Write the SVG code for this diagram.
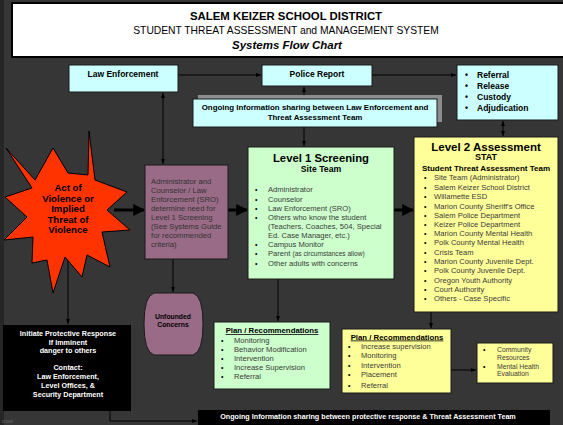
<svg xmlns="http://www.w3.org/2000/svg" width="563" height="425" viewBox="0 0 563 425">
  <defs>
    <style>
      text { font-family: "Liberation Sans", Arial, sans-serif; }
      .box { stroke: #1a1a1a; stroke-width: 1; }
      .cyan { fill: #ccffff; }
      .green { fill: #ccffcc; }
      .yellow { fill: #ffff99; }
      .purple { fill: #996b87; }
      .hd { font-weight: bold; fill: #000; text-anchor: middle; }
      .li { font-size: 7.6px; fill: #3a3a3a; }
      .bul { font-size: 7px; fill: #000; }
      .wt { font-weight: bold; fill: #fff; text-anchor: middle; font-size: 7.2px; }
      .ln { stroke: #000; stroke-width: 1; fill: none; }
      .thick { stroke: #000; stroke-width: 3; fill: none; }
    </style>
    <marker id="ah" viewBox="0 0 10 10" refX="10" refY="5" markerWidth="5" markerHeight="5" orient="auto-start-reverse" markerUnits="userSpaceOnUse">
      <path d="M0,1 L10,5 L0,9 z" fill="#000"/>
    </marker>
    <marker id="ahb" viewBox="0 0 10 10" refX="9" refY="5" markerWidth="4" markerHeight="4" orient="auto">
      <path d="M0,0 L10,5 L0,10 z" fill="#000"/>
    </marker>
  </defs>

  <!-- page background -->
  <rect x="0" y="0" width="563" height="425" fill="#363636"/>
  <rect x="0" y="0" width="4" height="425" fill="#262626"/>

  <!-- heading -->
  <g id="title">
    <rect x="12" y="3" width="553" height="54" fill="#fff" stroke="#000" stroke-width="2"/>
    <text x="286" y="20" class="hd" font-size="11.4">SALEM KEIZER SCHOOL DISTRICT</text>
    <text x="286" y="34" font-size="10.3" text-anchor="middle" fill="#000">STUDENT THREAT ASSESSMENT and MANAGEMENT SYSTEM</text>
    <text x="287" y="49" class="hd" font-size="11.5" font-style="italic">Systems Flow Chart</text>
  </g>

  <!-- connectors -->
  <g id="connectors">
    <line x1="178" y1="75" x2="261" y2="75" class="ln" marker-end="url(#ah)"/>
    <line x1="372" y1="75" x2="456" y2="75" class="ln" marker-end="url(#ah)"/>
    <line x1="163" y1="93" x2="163" y2="164" class="ln" marker-start="url(#ah)" marker-end="url(#ah)"/>
    <line x1="304" y1="99" x2="304" y2="87" class="ln" marker-end="url(#ah)"/>
    <line x1="304" y1="127" x2="304" y2="146" class="ln" marker-end="url(#ah)"/>
    <line x1="503" y1="121" x2="503" y2="136" class="ln" marker-start="url(#ah)" marker-end="url(#ah)"/>
    <line x1="114" y1="210" x2="144" y2="210" class="thick" marker-end="url(#ahb)"/>
    <line x1="228" y1="210" x2="247" y2="210" class="thick" marker-end="url(#ahb)"/>
    <line x1="394" y1="210" x2="413" y2="210" class="thick" marker-end="url(#ahb)"/>
    <line x1="173" y1="259" x2="173" y2="292" class="ln" marker-end="url(#ah)"/>
    <line x1="68" y1="255" x2="68" y2="324" class="ln" marker-end="url(#ah)"/>
    <line x1="278" y1="279" x2="278" y2="321" class="ln" marker-end="url(#ah)"/>
    <line x1="431" y1="312" x2="431" y2="328" class="ln" marker-end="url(#ah)"/>
    <line x1="451" y1="370" x2="476" y2="370" class="ln" marker-end="url(#ah)"/>
    <polyline points="110,411 110,421 197,421" class="ln" marker-end="url(#ah)"/>
  </g>

  <!-- law enforcement -->
  <g id="law-enforcement">
    <rect x="69" y="65" width="109" height="27" class="box cyan"/>
    <text x="123" y="77" class="hd" font-size="8.5">Law Enforcement</text>
  </g>

  <!-- police report -->
  <g id="police-report">
    <rect x="262" y="65" width="110" height="21" class="box cyan"/>
    <text x="317" y="77" class="hd" font-size="8.5">Police Report</text>
  </g>

  <!-- legal outcomes -->
  <g id="outcomes">
    <rect x="457" y="65" width="101" height="55" class="box cyan"/>
    <g font-size="8.5" font-weight="bold" fill="#000">
      <text x="465" y="78">•</text><text x="477" y="78">Referral</text>
      <text x="465" y="89">•</text><text x="477" y="89">Release</text>
      <text x="465" y="100">•</text><text x="477" y="100">Custody</text>
      <text x="465" y="111">•</text><text x="477" y="111">Adjudication</text>
    </g>
  </g>

  <!-- info sharing with law enforcement -->
  <g id="info-sharing-le">
    <rect x="198" y="95" width="244" height="27" fill="#8c8c8c"/>
    <rect x="193" y="99" width="244" height="28" class="box cyan"/>
    <text x="315" y="110" class="hd" font-size="7.9">Ongoing Information sharing between Law Enforcement and</text>
    <text x="315" y="119.5" class="hd" font-size="7.9">Threat Assessment Team</text>
  </g>

  <!-- triggering event -->
  <g id="incident">
    <polygon points="89,131 88,175 68,173 53,148 35,180 6,148 32,188 5,197 27,217 4,240 33,237 32,263 47,260 53,293 65,257 82,277 87,255 110,267 102,232 130,230 107,210 127,192 95,180" fill="#ff3300" stroke="#000" stroke-width="1"/>
    <g class="hd" font-size="9.6">
      <text x="68" y="191">Act of</text>
      <text x="68" y="201.5">Violence or</text>
      <text x="68" y="212">Implied</text>
      <text x="68" y="222.5">Threat of</text>
      <text x="68" y="233">Violence</text>
    </g>
  </g>

  <!-- initial determination -->
  <g id="determination">
    <rect x="145" y="165" width="83" height="94" class="box purple"/>
    <g font-size="7.7" fill="#333">
      <text x="151" y="184">Administrator and</text>
      <text x="151" y="193">Counselor / Law</text>
      <text x="151" y="202">Enforcement (SRO)</text>
      <text x="151" y="211">determine need for</text>
      <text x="151" y="220">Level 1 Screening</text>
      <text x="151" y="229">(See Systems Guide</text>
      <text x="151" y="238">for recommended</text>
      <text x="151" y="247">criteria)</text>
    </g>
  </g>

  <!-- unfounded -->
  <g id="unfounded">
    <path d="M154,293 L193,293 Q203,296 203,324 Q203,352 193,355 L154,355 Q144,352 144,324 Q144,296 154,293 z" class="box purple"/>
    <text x="173" y="319" class="hd" font-size="6.8" fill="#222">Unfounded</text>
    <text x="173" y="327" class="hd" font-size="6.8" fill="#222">Concerns</text>
  </g>

  <!-- level 1 -->
  <g id="level1">
    <rect x="248" y="147" width="146" height="132" class="box green"/>
    <text x="321" y="162" class="hd" font-size="11.3">Level 1 Screening</text>
    <text x="321" y="172" class="hd" font-size="8.7">Site Team</text>
    <g class="li">
      <text x="255" y="192" class="bul">•</text><text x="268" y="192">Administrator</text>
      <text x="255" y="202" class="bul">•</text><text x="268" y="202">Counselor</text>
      <text x="255" y="211" class="bul">•</text><text x="268" y="211">Law Enforcement (SRO)</text>
      <text x="255" y="220" class="bul">•</text><text x="268" y="220">Others who know the student</text>
      <text x="268" y="229">(Teachers, Coaches, 504, Special</text>
      <text x="268" y="238">Ed. Case Manager, etc.)</text>
      <text x="255" y="247" class="bul">•</text><text x="268" y="247">Campus Monitor</text>
      <text x="255" y="256" class="bul">•</text><text x="268" y="256">Parent <tspan font-size="6.6">(as circumstances allow)</tspan></text>
      <text x="255" y="266" class="bul">•</text><text x="268" y="266">Other adults with concerns</text>
    </g>
  </g>

  <!-- level 2 -->
  <g id="level2">
    <rect x="414" y="137" width="144" height="175" class="box yellow"/>
    <text x="486" y="151" class="hd" font-size="11.5">Level 2 Assessment</text>
    <text x="486" y="160" class="hd" font-size="9">STAT</text>
    <text x="486" y="171" class="hd" font-size="8">Student Threat Assessment Team</text>
    <g class="li">
      <text x="424" y="180" class="bul">•</text><text x="434" y="180">Site Team (Administrator)</text>
      <text x="424" y="189.5" class="bul">•</text><text x="434" y="189.5">Salem Keizer School District</text>
      <text x="424" y="199" class="bul">•</text><text x="434" y="199">Willamette ESD</text>
      <text x="424" y="208.5" class="bul">•</text><text x="434" y="208.5">Marion County Sheriff's Office</text>
      <text x="424" y="217.5" class="bul">•</text><text x="434" y="217.5">Salem Police Department</text>
      <text x="424" y="226.5" class="bul">•</text><text x="434" y="226.5">Keizer Police Department</text>
      <text x="424" y="236" class="bul">•</text><text x="434" y="236">Marion County Mental Health</text>
      <text x="424" y="245" class="bul">•</text><text x="434" y="245">Polk County Mental Health</text>
      <text x="424" y="254.5" class="bul">•</text><text x="434" y="254.5">Crisis Team</text>
      <text x="424" y="264" class="bul">•</text><text x="434" y="264">Marion County Juvenile Dept.</text>
      <text x="424" y="273" class="bul">•</text><text x="434" y="273">Polk County Juvenile Dept.</text>
      <text x="424" y="282.5" class="bul">•</text><text x="434" y="282.5">Oregon Youth Authority</text>
      <text x="424" y="292" class="bul">•</text><text x="434" y="292">Court Authority</text>
      <text x="424" y="301" class="bul">•</text><text x="434" y="301">Others - Case Specific</text>
    </g>
  </g>

  <!-- protective response -->
  <g id="protective-response">
    <rect x="3" y="325" width="128" height="86" fill="#000"/>
    <text x="68" y="336" class="wt">Initiate Protective Response</text>
    <text x="68" y="344.5" class="wt">If Imminent</text>
    <text x="68" y="353" class="wt">danger to others</text>
    <text x="68" y="370" class="wt">Contact:</text>
    <text x="68" y="379" class="wt">Law Enforcement,</text>
    <text x="68" y="388" class="wt">Level Offices, &amp;</text>
    <text x="68" y="397" class="wt">Security Department</text>
  </g>

  <!-- level 1 plan -->
  <g id="plan1">
    <rect x="214" y="322" width="116" height="67" class="box green"/>
    <text x="272" y="333" class="hd" font-size="7.8" text-decoration="underline">Plan / Recommendations</text>
    <g class="li">
      <text x="221" y="342.5" class="bul">•</text><text x="234" y="342.5">Monitoring</text>
      <text x="221" y="351.5" class="bul">•</text><text x="234" y="351.5">Behavior Modification</text>
      <text x="221" y="360.5" class="bul">•</text><text x="234" y="360.5">Intervention</text>
      <text x="221" y="370" class="bul">•</text><text x="234" y="370">Increase Supervision</text>
      <text x="221" y="379" class="bul">•</text><text x="234" y="379">Referral</text>
    </g>
  </g>

  <!-- level 2 plan -->
  <g id="plan2">
    <rect x="342" y="329" width="109" height="64" class="box yellow"/>
    <text x="397" y="339.5" class="hd" font-size="7.8" text-decoration="underline">Plan / Recommendations</text>
    <g class="li">
      <text x="348" y="349" class="bul">•</text><text x="361" y="349">Increase supervision</text>
      <text x="348" y="358" class="bul">•</text><text x="361" y="358">Monitoring</text>
      <text x="348" y="368" class="bul">•</text><text x="361" y="368">Intervention</text>
      <text x="348" y="377" class="bul">•</text><text x="361" y="377">Placement</text>
      <text x="348" y="388" class="bul">•</text><text x="361" y="388">Referral</text>
    </g>
  </g>

  <!-- community referral -->
  <g id="community">
    <rect x="477" y="343" width="76" height="40" class="box yellow"/>
    <g font-size="6.8" fill="#3a3a3a">
      <text x="483" y="352" class="bul">•</text><text x="497" y="352">Community</text>
      <text x="497" y="360">Resources</text>
      <text x="483" y="369" class="bul">•</text><text x="497" y="369">Mental Health</text>
      <text x="497" y="376">Evaluation</text>
    </g>
  </g>

  <!-- info sharing with protective response -->
  <g id="info-sharing-pr">
    <rect x="198" y="410" width="352" height="15" fill="#000"/>
    <text x="368" y="419" class="wt" font-size="7.4">Ongoing Information sharing between protective response &amp; Threat Assessment Team</text>
  </g>

  <text x="2" y="423" font-size="3.5" fill="#777">6/2009</text>
</svg>
